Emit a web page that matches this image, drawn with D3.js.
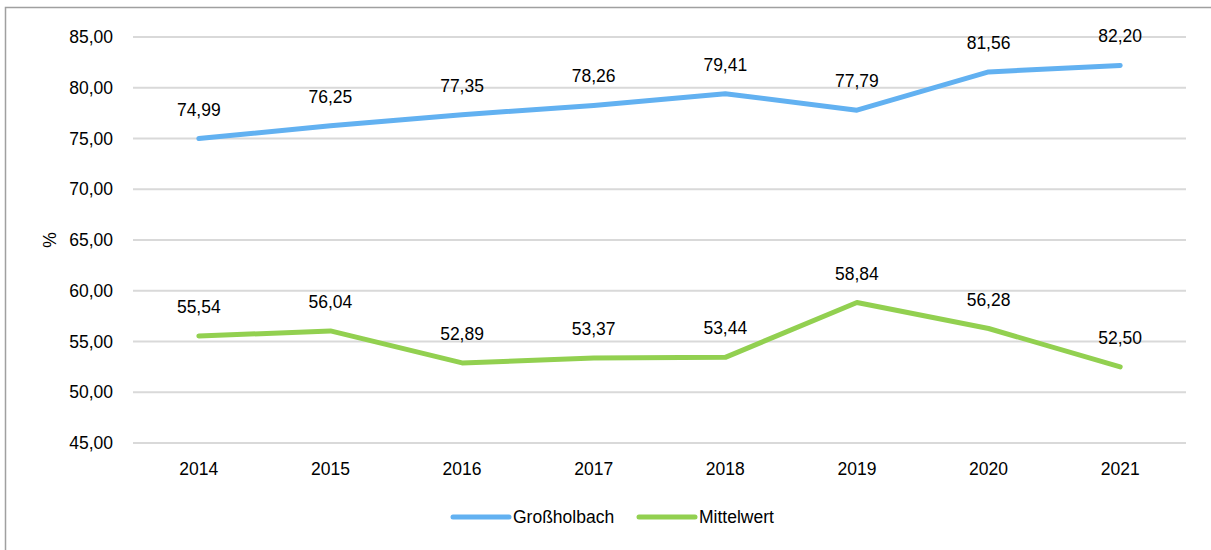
<!DOCTYPE html>
<html>
<head>
<meta charset="utf-8">
<script src="https://cdn.jsdelivr.net/npm/d3@7"></script>
<style>
  html, body { margin: 0; padding: 0; background: #fff; }
  svg text { font-family: "Liberation Sans", Arial, sans-serif; fill: #000; }
</style>
</head>
<body>
<div id="d3-container"></div>
<script>
/**
 * DATA
 * */
const years = ["2014", "2015", "2016", "2017", "2018", "2019", "2020", "2021"];
const grossholbach = [74.99, 76.25, 77.35, 78.26, 79.41, 77.79, 81.56, 82.20];
const mittelwert = [55.54, 56.04, 52.89, 53.37, 53.44, 58.84, 56.28, 52.50];
const yTicks = [45, 50, 55, 60, 65, 70, 75, 80, 85];
const seriesNames = ["Großholbach", "Mittelwert"];
const seriesColors = ["#62B1F1", "#92D050"];

/**
 * CONSTANTS
 * */
const width = 1211,
  height = 550,
  margin = { top: 37, bottom: 107, left: 133, right: 25 };

const fmt = v => v.toFixed(2).replace(".", ",");

const svg = d3.select("#d3-container")
  .append("svg")
  .attr("width", width)
  .attr("height", height);

// outer chart border (only top and left visible in the crop)
svg.append("rect")
  .attr("x", 5.5)
  .attr("y", 7.5)
  .attr("width", width + 10)
  .attr("height", height + 10)
  .attr("fill", "none")
  .attr("stroke", "#a0a0a0")
  .attr("stroke-width", 1.5);

const x = d3.scaleBand()
  .domain(years)
  .range([margin.left, width - margin.right]);

const y = d3.scaleLinear()
  .domain([45, 85])
  .range([height - margin.bottom + 0.5 - 0.5 + 0, margin.top])
  .nice();

// gridlines
svg.append("g")
  .selectAll("line")
  .data(yTicks)
  .join("line")
  .attr("x1", margin.left)
  .attr("x2", width - margin.right)
  .attr("y1", d => y(d))
  .attr("y2", d => y(d))
  .attr("stroke", "#d9d9d9")
  .attr("stroke-width", 2);

// y tick labels
svg.append("g")
  .selectAll("text")
  .data(yTicks)
  .join("text")
  .attr("x", margin.left - 20)
  .attr("y", d => y(d))
  .attr("dy", "0.35em")
  .attr("text-anchor", "end")
  .attr("font-size", 17.5)
  .text(d => fmt(d));

// y axis title
svg.append("text")
  .attr("transform", `translate(56, ${y(65)}) rotate(-90)`)
  .attr("text-anchor", "middle")
  .attr("font-size", 17.5)
  .text("%");

// x labels
svg.append("g")
  .selectAll("text")
  .data(years)
  .join("text")
  .attr("x", d => x(d) + x.bandwidth() / 2)
  .attr("y", y(45) + 32)
  .attr("text-anchor", "middle")
  .attr("font-size", 17.5)
  .text(d => d);

// lines
const series = [grossholbach, mittelwert];
const line = d3.line()
  .x((d, i) => x(years[i]) + x.bandwidth() / 2)
  .y(d => y(d));

svg.append("g")
  .selectAll("path")
  .data(series)
  .join("path")
  .attr("d", line)
  .attr("fill", "none")
  .attr("stroke", (d, i) => seriesColors[i])
  .attr("stroke-width", 5)
  .attr("stroke-linejoin", "round")
  .attr("stroke-linecap", "round");

// data labels
series.forEach(vals => {
  svg.append("g")
    .selectAll("text")
    .data(vals)
    .join("text")
    .attr("x", (d, i) => x(years[i]) + x.bandwidth() / 2)
    .attr("y", d => y(d) - 23)
    .attr("text-anchor", "middle")
    .attr("font-size", 17.5)
    .text(d => fmt(d));
});

// legend
const legendX = [453, 639];
const legend = svg.append("g")
  .selectAll("g")
  .data(seriesNames)
  .join("g")
  .attr("transform", (d, i) => `translate(${legendX[i]}, 517)`);

legend.append("line")
  .attr("x1", 0)
  .attr("x2", 56)
  .attr("stroke", (d, i) => seriesColors[i])
  .attr("stroke-width", 5)
  .attr("stroke-linecap", "round");

legend.append("text")
  .attr("x", 60)
  .attr("dy", "0.35em")
  .attr("font-size", 17.5)
  .text(d => d);
</script>
</body>
</html>
